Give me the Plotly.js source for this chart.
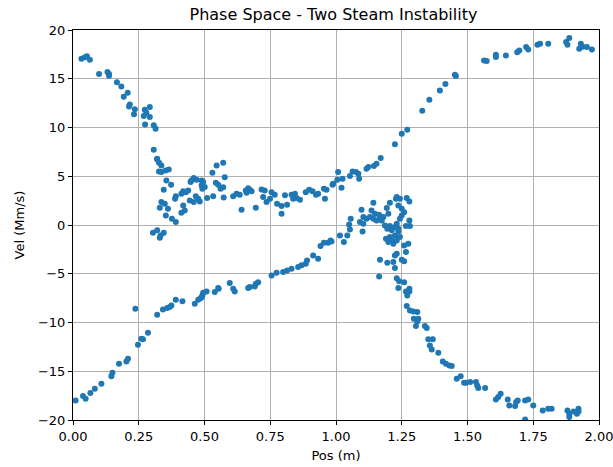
<!DOCTYPE html>
<html><head><meta charset="utf-8">
<script src="https://cdn.plot.ly/plotly-3.0.1.min.js"></script>
<style>html,body{margin:0;padding:0;background:#fff}</style>
</head><body><div id="chart" style="width:613px;height:467px"></div>
<script>
const pos = [
0.032,0.045,0.053,0.064,0.099,0.131,0.137,0.137,0.167,0.184,0.208,0.193,0.216,0.213,0.235,0.232,
0.273,0.292,0.279,0.269,0.292,0.274,0.307,0.314,0.307,0.320,
0.320,0.327,0.336,0.327,0.336,0.352,0.364,0.355,0.373,0.345,0.450,0.459,0.470,0.447,
0.419,0.429,0.438,0.412,0.391,0.388,0.467,0.476,0.444,0.459,0.336,0.349,0.330,0.361,0.419,0.425,0.412,0.353,0.376,0.391,
0.304,0.320,0.333,0.345,0.330,
0.546,0.571,0.530,0.577,0.489,0.495,0.489,0.501,0.492,0.543,0.552,0.561,0.571,0.510,0.533,0.482,0.573,
0.609,0.622,0.634,0.657,0.666,0.672,0.679,0.660,0.641,0.695,0.717,0.729,0.723,0.736,0.749,
0.755,0.767,0.776,0.793,0.793,0.806,0.814,0.831,0.844,0.837,0.850,0.863,
0.885,0.898,0.911,0.924,0.932,0.954,0.964,0.958,0.987,
0.941,0.954,0.970,0.979,0.913,0.932,0.890,0.885,0.869,0.856,0.831,0.814,0.799,0.774,0.755,0.704,0.695,0.672,0.596,0.552,0.609,
0.489,0.508,0.539,0.554,0.615,0.666,0.691,
0.010,0.038,0.048,0.066,0.083,0.108,0.146,0.150,0.175,0.203,0.209,0.247,0.260,0.266,0.285,0.237,0.320,0.342,0.358,0.368,0.374,0.391,0.416,0.463,0.476,0.485,0.492,0.495,
1.452,1.456,1.416,1.395,1.355,1.328,1.271,1.250,1.224,1.170,
1.154,1.144,1.123,1.116,1.085,1.076,1.063,1.053,1.088,1.008,1.025,1.005,0.989,1.021,
1.142,1.205,1.231,1.243,1.269,1.279,1.097,1.135,1.148,1.164,1.180,1.193,1.199,
1.104,1.116,1.129,1.142,1.154,1.167,1.174,1.091,1.104,1.056,1.050,1.053,1.043,1.015,1.030,0.983,1.101,
1.186,1.195,1.205,1.212,1.224,1.231,1.237,1.243,1.250,1.259,1.250,1.237,1.228,1.279,1.281,1.266,
1.190,1.199,1.205,1.212,1.218,1.224,1.237,1.243,1.231,1.259,1.275,1.266,1.231,1.224,
1.167,1.195,1.218,1.224,1.250,1.259,1.164,1.231,1.240,1.259,1.237,1.279,
1.266,1.279,1.271,1.269,1.281,1.294,1.309,1.296,1.313,1.309,1.304,1.338,1.345,
1.351,1.368,1.357,1.364,1.389,1.406,1.418,1.431,1.440,1.459,1.474,1.487,
1.494,1.510,1.532,1.537,1.541,1.567,1.608,1.617,1.626,1.653,1.659,1.681,1.685,1.691,
1.719,1.731,1.750,1.719,1.786,1.807,1.820,1.880,1.887,1.887,1.903,1.916,1.922,1.922,
1.563,1.573,1.608,1.608,1.646,1.689,1.697,1.723,1.731,1.766,1.776,1.807,1.875,1.880,1.887,1.931,1.925,1.938,1.954,1.973
];
const vel = [
17.06,17.2,17.3,16.95,15.5,15.7,15.5,15.3,14.65,14.2,13.57,13.16,12.37,12.16,11.86,11.37,
11.83,12.09,11.52,11.17,11.07,10.32,10.22,9.88,7.72,6.8,
6.73,6.39,6.11,5.50,5.43,5.6,5.7,4.57,4.13,3.62,4.57,4.81,4.65,4.40,
3.45,3.37,3.55,3.21,2.96,2.70,2.96,2.70,2.52,2.35,2.35,2.18,1.77,1.67,2.01,1.50,1.26,0.98,0.64,0.30,
-0.79,-0.55,-1.07,-0.79,-1.30,
6.11,6.39,5.36,4.91,4.57,4.40,4.06,3.89,3.72,4.34,4.13,3.72,3.86,2.76,2.96,2.42,2.83,
2.96,3.21,3.11,3.55,3.78,3.62,3.45,3.31,1.57,1.77,3.65,3.55,2.86,2.35,2.70,
3.37,3.11,2.18,1.94,1.16,3.04,2.08,3.11,3.21,2.70,2.76,2.60,
3.37,3.62,3.45,3.11,3.21,3.72,3.62,2.70,4.13,
-2.16,-1.82,-1.82,-1.58,-3.12,-3.46,-3.63,-3.97,-4.14,-4.32,-4.48,-4.66,-4.83,-4.89,-5.17,-5.86,-6.02,-6.37,-5.96,-6.47,-6.53,
-7.40,-6.81,-6.88,-6.53,-6.81,-6.47,-6.30,
-17.99,-17.55,-17.82,-17.24,-16.79,-16.28,-15.5,-15.15,-14.23,-13.99,-13.71,-12.28,-11.66,-11.73,-11.05,-8.59,-9.20,-8.66,-8.52,-8.42,-8.25,-7.66,-7.81,-8.07,-7.66,-7.50,-7.22,-6.94,
15.42,15.27,14.45,13.8,12.85,11.72,9.77,9.36,8.27,6.86,
6.29,6.04,5.94,5.77,5.26,5.43,5.50,5.02,4.75,5.43,4.75,4.65,4.24,3.83,
2.29,2.29,2.86,2.70,2.76,2.42,1.57,1.50,1.16,1.06,0.81,1.74,1.16,
0.81,0.64,0.81,0.64,0.47,0.64,0.47,0.30,0.13,0.64,0.06,-0.45,-1.07,-1.07,-1.75,-1.68,-0.66,
-0.04,-0.38,-0.11,-0.55,-0.21,0.13,-0.38,0.64,0.98,1.32,1.67,2.01,2.70,0.47,-0.11,-0.11,
-1.41,-1.75,-1.24,-1.58,-1.92,-1.07,-0.66,-1.24,-1.58,-2.09,-1.92,-2.78,-2.94,-3.12,
-3.56,-3.87,-3.80,-4.42,-3.56,-3.73,-5.27,-5.45,-5.78,-5.86,-6.47,-6.53,
-6.81,-6.81,-7.22,-8.32,-8.76,-8.86,-8.93,-9.61,-9.61,-9.89,-10.37,-10.37,-10.57,
-11.73,-11.73,-12.35,-12.76,-13.10,-13.99,-14.23,-14.40,-14.47,-15.77,-15.50,-16.18,
-16.18,-16.11,-16.11,-16.45,-16.73,-16.73,-17.89,-17.65,-17.30,-17.89,-18.50,-18.57,-18.16,-17.99,
-17.99,-17.89,-18.50,-19.94,-19.02,-18.84,-18.84,-19.02,-19.35,-19.70,-19.12,-19.35,-18.84,-19.12,
16.88,16.81,17.47,17.22,17.39,17.73,17.9,18.25,18.01,18.49,18.59,18.59,18.76,18.49,19.17,18.59,18.08,18.29,18.25,18.01
];
const xTicks = [0, 0.25, 0.5, 0.75, 1.0, 1.25, 1.5, 1.75, 2.0];
const xLabels = ['0.00','0.25','0.50','0.75','1.00','1.25','1.50','1.75','2.00'];
const yTicks = [-20,-15,-10,-5,0,5,10,15,20];
const yLabels = ['−20','−15','−10','−5','0','5','10','15','20'];

const font = {family: 'DejaVu Sans', size: 13, color: '#000'};
const axisCommon = {
  showline: true, linecolor: '#000', linewidth: 1, mirror: true,
  ticks: 'outside', ticklen: 4, tickcolor: '#000', tickwidth: 1,
  showgrid: true, gridcolor: '#b0b0b0', gridwidth: 1, zeroline: false,
  tickfont: font, ticklabeloverflow: 'allow'
};
Plotly.newPlot('chart', [{
  x: pos, y: vel, type: 'scatter', mode: 'markers',
  marker: {color: '#1f77b4', size: 6, line: {width: 0}},
  hoverinfo: 'none'
}], {
  width: 613, height: 467,
  margin: {l: 73, r: 14, t: 30, b: 47},
  paper_bgcolor: '#fff', plot_bgcolor: '#fff',
  font: font,
  title: {text: 'Phase Space - Two Steam Instability', font: {family: 'DejaVu Sans', size: 16, color: '#000'}, x: 0.544, xanchor: 'center', y: 0.97, yanchor: 'middle'},
  xaxis: Object.assign({}, axisCommon, {range: [0, 2], tickvals: xTicks, ticktext: xLabels,
    title: {text: 'Pos (m)', font: font, standoff: 8}}),
  yaxis: Object.assign({}, axisCommon, {range: [-20, 20], tickvals: yTicks, ticktext: yLabels,
    title: {text: 'Vel (Mm/s)', font: font, standoff: 10}}),
  showlegend: false
}, {staticPlot: true, displayModeBar: false});
</script></body></html>
